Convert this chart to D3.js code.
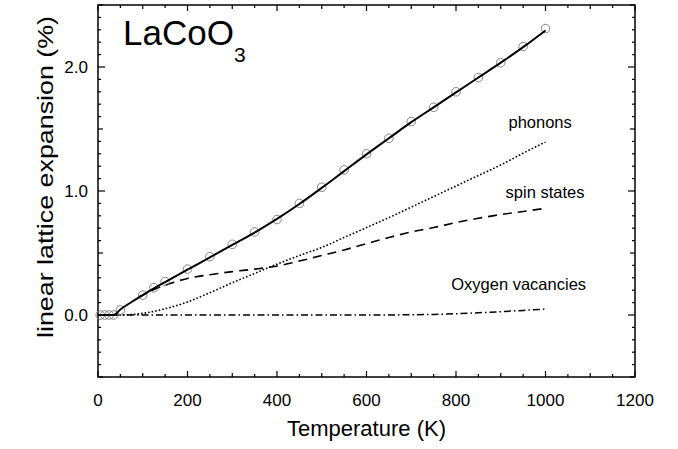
<!DOCTYPE html>
<html>
<head>
<meta charset="utf-8">
<script src="https://cdn.jsdelivr.net/npm/d3@7"></script>
<style>
  html, body { margin: 0; padding: 0; background: #fff; }
  svg { display: block; font-family: "Liberation Sans", Arial, Helvetica, sans-serif; }
</style>
</head>
<body>
<svg id="chart" width="678" height="449"></svg>
<script>
// Measured linear expansion of LaCoO3 (open circles)
const tempObs = [5, 15, 25, 35, 50, 100, 125, 150, 200, 250, 300, 350, 400, 450, 500, 550, 600, 650, 700, 750, 800, 850, 900, 950, 1000];
const expObs  = [0, 0, 0, 0, 0.04, 0.16, 0.22, 0.27, 0.37, 0.47, 0.57, 0.67, 0.77, 0.90, 1.03, 1.17, 1.30, 1.425, 1.56, 1.675, 1.80, 1.915, 2.035, 2.165, 2.31];

// Total model (solid line)
const tempFit = [0, 35, 50, 75, 100, 125, 150, 200, 250, 300, 350, 400, 450, 500, 550, 600, 650, 700, 750, 800, 850, 900, 950, 1000];
const expFit  = [0, 0, 0.045, 0.105, 0.16, 0.215, 0.265, 0.365, 0.465, 0.565, 0.665, 0.775, 0.895, 1.025, 1.16, 1.295, 1.425, 1.555, 1.675, 1.795, 1.915, 2.035, 2.16, 2.295];

// Phonon contribution (dotted)
const tempPhonon = [40, 50, 100, 150, 200, 250, 300, 350, 400, 450, 500, 550, 600, 650, 700, 750, 800, 850, 900, 950, 1000];
const expPhonon  = [0, 0, 0.013, 0.05, 0.105, 0.18, 0.26, 0.335, 0.41, 0.48, 0.545, 0.625, 0.705, 0.785, 0.87, 0.955, 1.04, 1.125, 1.21, 1.305, 1.395];

// Spin-state contribution (dashed)
const tempSpin = [90, 100, 125, 150, 200, 250, 300, 350, 400, 450, 500, 550, 600, 650, 700, 750, 800, 850, 900, 950, 1000];
const expSpin  = [0.145, 0.16, 0.205, 0.24, 0.295, 0.325, 0.35, 0.37, 0.395, 0.435, 0.48, 0.525, 0.575, 0.625, 0.67, 0.705, 0.745, 0.78, 0.81, 0.835, 0.86];

// Oxygen-vacancy contribution (dash-dot)
const tempOxygen = [0, 600, 700, 750, 800, 850, 900, 950, 1000];
const expOxygen  = [0, 0, 0.002, 0.005, 0.01, 0.018, 0.027, 0.037, 0.048];

// Axis ticks
const xTickLabels = [0, 200, 400, 600, 800, 1000, 1200];
const yTickLabels = [0.0, 1.0, 2.0];

// Curve annotations: [text, temperature, expansion]
const curveLabels = [
  ["phonons", 988, 1.506],
  ["spin states", 999, 0.946],
  ["Oxygen vacancies", 940, 0.198]
];

const svg = d3.select("#chart");
const margin = { left: 98, right: 43, top: 5, bottom: 72 };
const W = 678, H = 449;

const x = d3.scaleLinear().domain([0, 1200]).range([margin.left, W - margin.right]);
const y = d3.scaleLinear().domain([-0.5, 2.5]).range([H - margin.bottom, margin.top]);

const zip = (xs, ys) => xs.map((t, i) => [t, ys[i]]);
const line = d3.line().x(d => x(d[0])).y(d => y(d[1])).curve(d3.curveMonotoneX);

// Inward ticks on all four sides
function ticksX(g, side) {
  const y0 = side === "bottom" ? y(-0.5) : y(2.5);
  const dir = side === "bottom" ? -1 : 1;
  const vals = d3.range(0, 1201, 50);
  g.selectAll("line").data(vals).join("line")
    .attr("x1", d => x(d)).attr("x2", d => x(d))
    .attr("y1", y0)
    .attr("y2", d => y0 + dir * (d % 200 === 0 ? 6 : (d % 100 === 0 ? 4 : 3)))
    .attr("stroke", "#000").attr("stroke-width", 1.2);
}
function ticksY(g, side) {
  const x0 = side === "left" ? x(0) : x(1200);
  const dir = side === "left" ? 1 : -1;
  const vals = d3.range(-5, 26, 1).map(v => v / 10);
  g.selectAll("line").data(vals).join("line")
    .attr("y1", d => y(d)).attr("y2", d => y(d))
    .attr("x1", x0)
    .attr("x2", d => {
      const k = Math.round(d * 10);
      return x0 + dir * (k % 10 === 0 ? 7 : (k % 5 === 0 ? 5 : 3));
    })
    .attr("stroke", "#000").attr("stroke-width", 1.2);
}
ticksX(svg.append("g"), "bottom");
ticksX(svg.append("g"), "top");
ticksY(svg.append("g"), "left");
ticksY(svg.append("g"), "right");

// Frame
svg.append("rect")
  .attr("x", x(0)).attr("y", y(2.5))
  .attr("width", x(1200) - x(0)).attr("height", y(-0.5) - y(2.5))
  .attr("fill", "none").attr("stroke", "#000").attr("stroke-width", 1.5);

// Tick labels
svg.append("g").selectAll("text").data(xTickLabels).join("text")
  .attr("x", d => x(d)).attr("y", 406)
  .attr("text-anchor", "middle").attr("font-size", 17)
  .text(d => d);
svg.append("g").selectAll("text").data(yTickLabels).join("text")
  .attr("x", x(0) - 10).attr("y", d => y(d))
  .attr("dy", "0.36em")
  .attr("text-anchor", "end").attr("font-size", 17)
  .text(d => d.toFixed(1));

// Axis titles
svg.append("text")
  .attr("x", (x(0) + x(1200)) / 2).attr("y", 436)
  .attr("text-anchor", "middle").attr("font-size", 22)
  .text("Temperature (K)");
svg.append("text")
  .attr("transform", `translate(53,${177}) rotate(-90)`)
  .attr("text-anchor", "middle").attr("font-size", 22)
  .attr("textLength", 322).attr("lengthAdjust", "spacingAndGlyphs")
  .text("linear lattice expansion  (%)");

// Contribution curves
svg.append("path").datum(zip(tempOxygen, expOxygen)).attr("d", line)
  .attr("fill", "none").attr("stroke", "#000").attr("stroke-width", 1.5)
  .attr("stroke-dasharray", "7,3,1.5,3");
svg.append("path").datum(zip(tempPhonon, expPhonon)).attr("d", line)
  .attr("fill", "none").attr("stroke", "#000").attr("stroke-width", 1.6)
  .attr("stroke-dasharray", "1.6,2");
svg.append("path").datum(zip(tempSpin, expSpin)).attr("d", line)
  .attr("fill", "none").attr("stroke", "#000").attr("stroke-width", 1.6)
  .attr("stroke-dasharray", "9,6");

// Measured points
svg.append("g").selectAll("circle").data(zip(tempObs, expObs)).join("circle")
  .attr("cx", d => x(d[0])).attr("cy", d => y(d[1])).attr("r", 4.3)
  .attr("fill", "none").attr("stroke", "#777").attr("stroke-width", 0.9);

// Total model
svg.append("path").datum(zip(tempFit, expFit)).attr("d", line)
  .attr("fill", "none").attr("stroke", "#000").attr("stroke-width", 2);

// Curve annotations
svg.append("g").selectAll("text").data(curveLabels).join("text")
  .attr("x", d => x(d[1])).attr("y", d => y(d[2]))
  .attr("text-anchor", "middle").attr("font-size", 16.5)
  .text(d => d[0]);

// Compound name
const title = svg.append("text")
  .attr("x", x(56)).attr("y", y(2.18))
  .attr("font-size", 35);
title.append("tspan").text("LaCoO");
title.append("tspan").attr("font-size", 21).attr("dy", 17).text("3");
</script>
</body>
</html>
